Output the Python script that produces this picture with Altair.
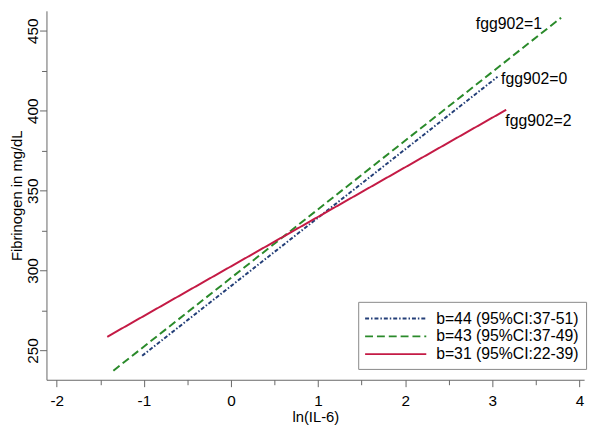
import altair as alt
import pandas as pd

# ---- data ----
series = ["fgg902=0", "fgg902=1", "fgg902=2"]
legend_labels = ["b=44 (95%CI:37-51)", "b=43 (95%CI:37-49)", "b=31 (95%CI:22-39)"]
x_start = [-1.02, -1.35, -1.42]
x_end = [3.06, 3.79, 3.16]
y_start = [246.7, 237.4, 258.6]
y_end = [421.2, 458.2, 400.6]
label_x = [3.10, 2.81, 3.15]
label_y = [420.0, 454.5, 393.7]
x_major = [-2, -1, 0, 1, 2, 3, 4]
x_minor = [-1.5, -0.5, 0.5, 1.5, 2.5, 3.5]
y_major = [250, 300, 350, 400, 450]
y_minor = [275, 325, 375, 425]

colors = ["#243f78", "#2a8a2a", "#c41a45"]
dashes = [[4, 2, 1.5, 2], [8, 4], [1, 0]]
FONT = "Liberation Sans"

rows = []
for s, lg, xs, xe, ys, ye in zip(series, legend_labels, x_start, x_end, y_start, y_end):
    rows.append({"series": s, "legend": lg, "x": xs, "y": ys, "o": 0})
    rows.append({"series": s, "legend": lg, "x": xe, "y": ye, "o": 1})
lines_df = pd.DataFrame(rows)
labels_df = pd.DataFrame({"series": series, "x": label_x, "y": label_y})

xscale = alt.Scale(domain=[-2.118, 4.054], nice=False, zero=False)
yscale = alt.Scale(domain=[231.7, 462.5], nice=False, zero=False)

xaxis = alt.Axis(
    values=sorted(x_major + x_minor),
    labelExpr="datum.value % 1 == 0 ? '' + datum.value : ''",
    tickSize=alt.condition("datum.value % 1 == 0", alt.value(7), alt.value(5)),
    title="ln(IL-6)", grid=False, domainColor="#666", tickColor="#666",
    labelFont=FONT, labelFontSize=15.5, labelColor="black", labelPadding=7,
    titleFont=FONT, titleFontSize=15, titleFontWeight="normal", titleColor="black",
    titlePadding=1, labelFlush=False, labelOverlap=False,
)
yaxis = alt.Axis(
    values=sorted(y_major + y_minor),
    labelExpr="datum.value % 50 == 0 ? '' + datum.value : ''",
    tickSize=alt.condition("datum.value % 50 == 0", alt.value(7), alt.value(5)),
    title="Fibrinogen in mg/dL", grid=False, domainColor="#666", tickColor="#666",
    labelFont=FONT, labelFontSize=15.5, labelColor="black", labelPadding=2,
    labelAngle=270, labelAlign="center", labelBaseline="alphabetic",
    titleFont=FONT, titleFontSize=15, titleFontWeight="normal", titleColor="black",
    titlePadding=1, labelFlush=False, labelOverlap=False,
)

leg = alt.Legend(
    orient="none", legendX=316, legendY=295, title=None,
    symbolType="M-1.111,0H5.778", symbolSize=324, symbolStrokeWidth=2,
    labelFont=FONT, labelFontSize=16, labelColor="black", labelOffset=52,
    padding=7, rowPadding=0, strokeColor="#888", fillColor="white",
)

lines = alt.Chart(lines_df).mark_line(strokeWidth=2).encode(
    x=alt.X("x:Q", scale=xscale, axis=xaxis),
    y=alt.Y("y:Q", scale=yscale, axis=yaxis),
    color=alt.Color("legend:N", scale=alt.Scale(domain=legend_labels, range=colors), legend=leg),
    strokeDash=alt.StrokeDash("legend:N", scale=alt.Scale(domain=legend_labels, range=dashes), legend=leg),
    order="o:Q",
    detail="series:N",
)

texts = alt.Chart(labels_df).mark_text(
    align="left", baseline="middle", font=FONT, fontSize=16, color="black"
).encode(
    x=alt.X("x:Q", scale=xscale),
    y=alt.Y("y:Q", scale=yscale),
    text="series:N",
)

chart = alt.layer(lines, texts).properties(
    width=545, height=374,
    padding={"left": 39, "top": 0, "right": 8, "bottom": 44},
    autosize=alt.AutoSizeParams(type="none"),
    background="white",
).configure_view(stroke=None)

chart.save("out.html", embed_options={"renderer": "svg", "actions": False})
